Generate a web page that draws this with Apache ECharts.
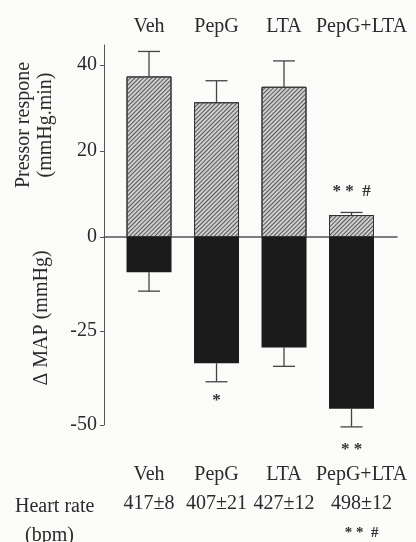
<!DOCTYPE html>
<html>
<head>
<meta charset="utf-8">
<script src="https://cdn.jsdelivr.net/npm/echarts@6/dist/echarts.min.js"></script>
<style>
  html, body { margin: 0; padding: 0; background: #fbfbf9; }
  #chart { width: 416px; height: 542px; }
</style>
</head>
<body>
<div id="chart"></div>
<script>
// 组别
const groups = ['Veh', 'PepG', 'LTA', 'PepG+LTA']
// 升压反应 (mmHg.min)，均值和误差上端
const pressorMean = [37.3, 31.3, 34.9, 5.1]
const pressorErrTop = [43.1, 36.3, 40.9, 5.7]
// ΔMAP (mmHg)，均值和误差下端
const mapMean = [-9.4, -33.6, -29.4, -45.7]
const mapErrBottom = [-14.4, -38.5, -34.4, -50.5]
// 心率
const heartRate = ['417±8', '407±21', '427±12', '498±12']
// 显著性标记
const pressorMarks = ['', '', '', '* *  #']
const mapMarks = ['', '*', '', '* *']
const heartRateMarks = ['', '', '', '* *  #']

const serif = 'Liberation Serif'
const ink = '#2a2a2a'
const axisGrey = '#555'

const chart = echarts.init(document.getElementById('chart'))

// 误差线：竖线 + 横帽
const renderErr = (params, api) => {
  const x = api.value(0)
  const p0 = api.coord([x, api.value(1)])
  const p1 = api.coord([x, api.value(2)])
  const half = 11
  return {
    type: 'group',
    children: [
      { type: 'line', shape: { x1: p0[0], y1: p0[1], x2: p1[0], y2: p1[1] }, style: { stroke: '#444', lineWidth: 1.3 } },
      { type: 'line', shape: { x1: p1[0] - half, y1: p1[1], x2: p1[0] + half, y2: p1[1] }, style: { stroke: '#444', lineWidth: 1.3 } },
    ],
  }
}

const markLabel = (marks, position, distance) => (i) =>
  marks[i]
    ? { show: true, position, distance: distance[i], formatter: marks[i], fontFamily: serif, fontSize: 17, fontWeight: 'bold', color: '#333' }
    : { show: false }

const upperLabel = markLabel(pressorMarks, 'top', [0, 0, 0, 15])
const lowerLabel = markLabel(mapMarks, 'bottom', [0, 29, 0, 32])

const xRange = { min: -0.667, max: 3.674 }

// 只放文字的 x 轴
const labelAxis = (gridIndex, position, margin, formatter, rich) => ({
  type: 'value', gridIndex, position, ...xRange,
  axisLine: { show: false }, axisTick: { show: false }, splitLine: { show: false },
  axisLabel: {
    customValues: [0, 1, 2, 3],
    margin,
    hideOverlap: false,
    showMinLabel: true,
    showMaxLabel: true,
    formatter,
    rich,
  },
})

const textRich = {
  n: { fontFamily: serif, fontSize: 20, color: ink },
  r: { fontFamily: serif, fontSize: 20, color: ink, padding: [0, 0, 0, 20] },
  m: { fontFamily: serif, fontSize: 15, fontWeight: 'bold', color: '#333', padding: [0, 0, 0, 20] },
}

chart.setOption({
  backgroundColor: '#fbfbf9',
  animation: false,
  title: [
    { text: 'Heart rate', left: 10, top: 492, textStyle: { fontFamily: serif, fontSize: 20, fontWeight: 'normal', color: ink } },
    { text: '(bpm)', left: 20, top: 521, textStyle: { fontFamily: serif, fontSize: 20, fontWeight: 'normal', color: ink } },
  ],
  grid: [
    { left: 104, right: 19, top: 45, height: 192 },
    { left: 104, right: 19, top: 237, height: 188 },
  ],
  xAxis: [
    {
      type: 'value', gridIndex: 0, ...xRange,
      axisLine: { show: true, onZero: true, lineStyle: { color: axisGrey, width: 1.5 } },
      axisTick: { show: false }, axisLabel: { show: false }, splitLine: { show: false },
    },
    {
      type: 'value', gridIndex: 1, ...xRange,
      axisLine: { show: false }, axisTick: { show: false }, axisLabel: { show: false }, splitLine: { show: false },
    },
    // 顶部组名
    labelAxis(0, 'top', 8, (v) => '{' + (v === 3 ? 'r' : 'n') + '|' + groups[v] + '}', textRich),
    // 底部组名
    labelAxis(1, 'bottom', 40, (v) => '{' + (v === 3 ? 'r' : 'n') + '|' + groups[v] + '}', textRich),
    // 心率
    labelAxis(1, 'bottom', 69, (v) => '{' + (v === 3 ? 'r' : 'n') + '|' + heartRate[v] + '}', textRich),
    // 心率显著性
    labelAxis(1, 'bottom', 101, (v) => (heartRateMarks[v] ? '{m|' + heartRateMarks[v] + '}' : ''), textRich),
  ],
  yAxis: [
    {
      type: 'value', gridIndex: 0, min: 0, max: 44.6,
      name: 'Pressor respone\n(mmHg.min)',
      nameLocation: 'middle', nameGap: 47,
      nameTextStyle: { fontFamily: serif, fontSize: 20, color: ink, lineHeight: 22, padding: [0, 0, 0, 32] },
      axisLine: { show: true, onZero: false, lineStyle: { color: axisGrey, width: 1 } },
      axisTick: { show: true, length: 4, customValues: [0, 20, 40], lineStyle: { color: axisGrey } },
      axisLabel: { customValues: [0, 20, 40], margin: 7, fontFamily: serif, fontSize: 20, color: ink },
      splitLine: { show: false },
    },
    {
      type: 'value', gridIndex: 1, min: -50, max: 0,
      name: 'Δ MAP (mmHg)',
      nameLocation: 'middle', nameGap: 52,
      nameTextStyle: { fontFamily: serif, fontSize: 20, color: ink, padding: [0, 0, 0, 26] },
      axisLine: { show: true, onZero: false, lineStyle: { color: axisGrey, width: 1 } },
      axisTick: { show: true, length: 4, customValues: [-50, -25], lineStyle: { color: axisGrey } },
      axisLabel: { customValues: [-50, -25], margin: 7, fontFamily: serif, fontSize: 20, color: ink },
      splitLine: { show: false },
    },
  ],
  series: [
    {
      name: 'Pressor',
      type: 'bar', xAxisIndex: 0, yAxisIndex: 0, barWidth: 45,
      itemStyle: {
        color: '#cfcfcf', borderColor: '#333', borderWidth: 1,
        decal: { symbol: 'rect', symbolSize: 1, color: '#555', dashArrayX: [1, 0], dashArrayY: [1, 2], rotation: -Math.PI / 4 },
      },
      data: pressorMean.map((v, i) => ({ value: [i, v], label: upperLabel(i) })),
      z: 2,
    },
    {
      name: 'MAP',
      type: 'bar', xAxisIndex: 1, yAxisIndex: 1, barWidth: 45,
      itemStyle: { color: '#1b1b1b' },
      data: mapMean.map((v, i) => ({ value: [i, v], label: lowerLabel(i) })),
      z: 2,
    },
    {
      type: 'custom', xAxisIndex: 0, yAxisIndex: 0, renderItem: renderErr, z: 1,
      data: pressorMean.map((v, i) => [i, v, pressorErrTop[i]]),
    },
    {
      type: 'custom', xAxisIndex: 1, yAxisIndex: 1, renderItem: renderErr, z: 1,
      data: mapMean.map((v, i) => [i, v, mapErrBottom[i]]),
    },
  ],
})
</script>
</body>
</html>
